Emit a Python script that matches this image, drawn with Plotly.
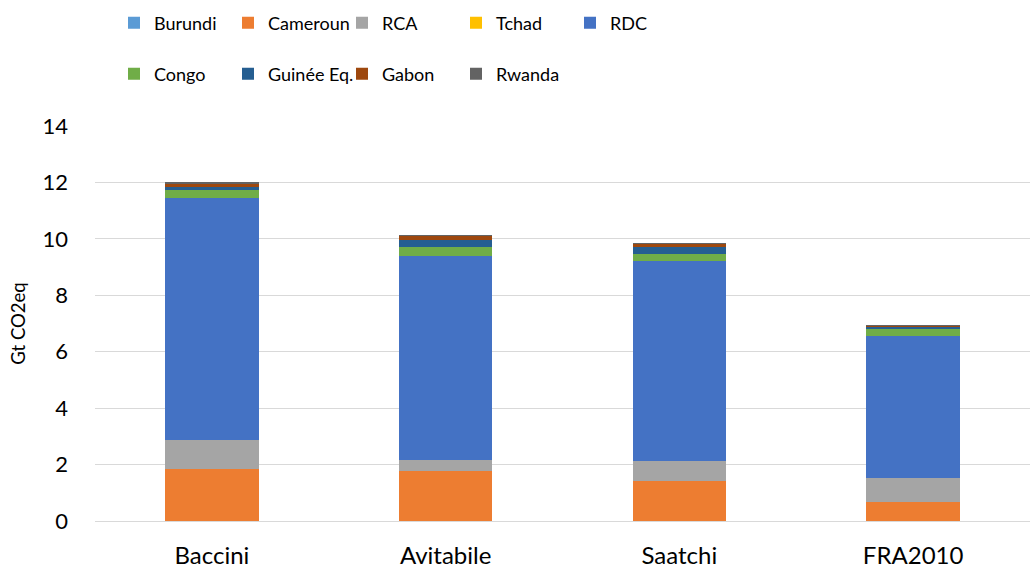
import plotly.graph_objects as go

methods = ["Baccini", "Avitabile", "Saatchi", "FRA2010"]
countries = ["Burundi", "Cameroun", "RCA", "Tchad", "RDC",
             "Congo", "Guinée Eq.", "Gabon", "Rwanda"]

burundi = [0.005, 0.005, 0.005, 0.005]
cameroun = [1.84, 1.76, 1.43, 0.68]
rca = [1.03, 0.38, 0.69, 0.85]
tchad = [0.0, 0.0, 0.0, 0.0]
rdc = [8.57, 7.26, 7.08, 5.02]
congo = [0.28, 0.29, 0.27, 0.26]
guinee = [0.12, 0.28, 0.22, 0.07]
gabon = [0.12, 0.13, 0.13, 0.04]
rwanda = [0.02, 0.01, 0.01, 0.01]

series = [burundi, cameroun, rca, tchad, rdc, congo, guinee, gabon, rwanda]
colors = ["#5B9BD5", "#ED7D31", "#A5A5A5", "#FFC000", "#4472C4",
          "#70AD47", "#255E91", "#9E480E", "#636363"]

FONT = "Lato, Open Sans, sans-serif"

fig = go.Figure()
for i, (name, vals) in enumerate(zip(countries, series)):
    fig.add_trace(go.Bar(
        x=methods, y=vals, name=name,
        marker=dict(color=colors[i], line=dict(width=0)),
        legend="legend" if i < 5 else "legend2",
    ))

leg = dict(
    orientation="h", xanchor="left", yanchor="middle",
    xref="container", yref="container",
    font=dict(family=FONT, size=18, color="#000000"),
    entrywidth=69, entrywidthmode="pixels",
    itemwidth=30, bgcolor="rgba(0,0,0,0)", traceorder="normal",
)

fig.update_layout(
    barmode="stack",
    bargap=0.6,
    width=1030, height=569,
    paper_bgcolor="white", plot_bgcolor="white",
    font=dict(family=FONT, size=20, color="#000000"),
    margin=dict(l=95, r=0, t=126, b=48),
    legend={**leg, "x": 114 / 1030, "y": 1 - 23 / 569},
    legend2={**leg, "x": 114 / 1030, "y": 1 - 74 / 569},
    xaxis=dict(showline=True, linecolor="#d9d9d9", linewidth=1,
               ticks="", tickfont=dict(size=24), ticklabelstandoff=13),
    yaxis=dict(range=[0, 14], dtick=2, showgrid=True, gridcolor="#d9d9d9",
               gridwidth=1, zeroline=False, ticks="",
               tickfont=dict(size=22), ticklabelstandoff=26,
               title=dict(text="Gt CO2eq", font=dict(size=18.5), standoff=11)),
)

fig.write_html("out.html", config={"displayModeBar": False},
               post_script="document.body.style.margin='0';")
